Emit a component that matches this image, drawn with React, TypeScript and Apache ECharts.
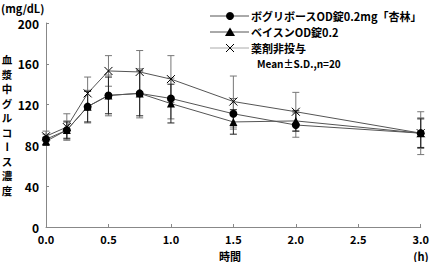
import React, { useEffect, useRef } from "react";
import * as echarts from "echarts";

const times = [0, 1 / 6, 1 / 3, 0.5, 0.75, 1.0, 1.5, 2.0, 3.0];
const xTicks = ["0.0", "0.5", "1.0", "1.5", "2.0", "2.5", "3.0"];
const yTicks = [0, 40, 80, 120, 160, 200];

const seriesNames = ["ボグリボースOD錠0.2mg「杏林」", "ベイスンOD錠0.2", "薬剤非投与"];
const vogMean = [86, 95, 118, 129, 131, 126, 111, 100, 92];
const vogSD = [5, 9, 16, 20, 24, 20, 15, 12, 15];
const basMean = [84, 95, 118, 129, 131, 121, 103, 104, 92];
const basSD = [4, 8, 15, 18, 22, 19, 12, 10, 14];
const noneMean = [89, 98, 131, 153, 152, 145, 123, 113, 92];
const noneSD = [5, 13, 16, 15, 21, 23, 25, 19, 21];

const yTitle = "血漿中グルコース濃度";
const note = "Mean±S.D.,n=20";

const FONT = "'Noto Sans CJK JP', 'Noto Sans', sans-serif";
const X_PATH = "path://M0,0L10,10M10,0L0,10";

function errData(mean: number[], sd: number[]) {
  return times.map((t, i) => [t, mean[i] - sd[i], mean[i] + sd[i]]);
}

function errSeries(mean: number[], sd: number[], color: string) {
  return {
    type: "custom",
    silent: true,
    z: 1,
    clip: false,
    data: errData(mean, sd),
    encode: { x: 0, y: [1, 2] },
    renderItem: (params: any, api: any) => {
      const x = api.value(0);
      const lo = api.coord([x, api.value(1)]);
      const hi = api.coord([x, api.value(2)]);
      const w = 3.5;
      const style = { stroke: color, lineWidth: 1 };
      return {
        type: "group",
        children: [
          { type: "line", shape: { x1: lo[0], y1: lo[1], x2: hi[0], y2: hi[1] }, style },
          { type: "line", shape: { x1: lo[0] - w, y1: lo[1], x2: lo[0] + w, y2: lo[1] }, style },
          { type: "line", shape: { x1: hi[0] - w, y1: hi[1], x2: hi[0] + w, y2: hi[1] }, style },
        ],
      };
    },
  };
}

function lineSeries(name: string, mean: number[], symbol: string, size: number, isX: boolean) {
  return {
    type: "line",
    name,
    z: 3,
    clip: false,
    data: times.map((t, i) => [t, mean[i]]),
    symbol,
    symbolSize: size,
    showAllSymbol: true,
    lineStyle: { color: "#555", width: 1 },
    itemStyle: isX
      ? { color: "#fff", borderColor: "#000", borderWidth: 1 }
      : { color: "#000", borderColor: "#000", borderWidth: 0 },
  };
}

export default function App() {
  const ref = useRef<HTMLDivElement>(null);
  useEffect(() => {
    document.body.style.margin = "0";
    if (!ref.current) return;
    const chart = echarts.init(ref.current, undefined, { renderer: "svg" });

    const chars = yTitle.split("");
    const STEP = 14.5;
    const Y0 = 125 - ((chars.length - 1) / 2) * STEP;
    const titleParts = chars.map((c, i) => ({
      type: "text",
      x: 7,
      y: Y0 + i * STEP,
      rotation: c === "ー" ? -Math.PI / 2 : 0,
      style: {
        text: c,
        font: `bold 10.5px ${FONT}`,
        fill: "#000",
        align: "center",
        verticalAlign: "middle",
      },
    }));

    const legendRows = [0, 1, 2].map((i) => {
      const y = 16 + i * 16;
      const lineColor = i === 2 ? "#aaa" : "#555";
      const children: any[] = [
        { type: "line", shape: { x1: 210, y1: y, x2: 249, y2: y }, style: { stroke: lineColor, lineWidth: 1 } },
      ];
      if (i === 0) children.push({ type: "circle", shape: { cx: 230, cy: y, r: 4 }, style: { fill: "#000" } });
      if (i === 1)
        children.push({
          type: "polygon",
          shape: { points: [[230, y - 4.5], [225, y + 4], [235, y + 4]] },
          style: { fill: "#000" },
        });
      if (i === 2) {
        children.push({ type: "line", shape: { x1: 226, y1: y - 4, x2: 234, y2: y + 4 }, style: { stroke: "#000", lineWidth: 1 } });
        children.push({ type: "line", shape: { x1: 226, y1: y + 4, x2: 234, y2: y - 4 }, style: { stroke: "#000", lineWidth: 1 } });
      }
      children.push({
        type: "text",
        x: 251,
        y,
        style: { text: seriesNames[i], font: `bold 11px ${FONT}`, fill: "#000", verticalAlign: "middle" },
      });
      return { type: "group", children };
    });

    chart.setOption({
      animation: false,
      grid: { left: 46, right: 11, top: 23, bottom: 35, containLabel: false },
      xAxis: {
        type: "value",
        min: 0,
        max: 3,
        interval: 0.5,
        axisLine: { lineStyle: { color: "#888", width: 1 } },
        axisTick: { show: true, inside: true, length: 3, lineStyle: { color: "#888" } },
        splitLine: { show: false },
        axisLabel: {
          formatter: (v: number) => xTicks[Math.round(v / 0.5)] ?? v.toFixed(1),
          color: "#000",
          fontSize: 11,
          fontWeight: "bold",
          fontFamily: FONT,
          margin: 6,
        },
      },
      yAxis: {
        type: "value",
        min: yTicks[0],
        max: yTicks[yTicks.length - 1],
        interval: 40,
        axisLine: { show: true, lineStyle: { color: "#888", width: 1 } },
        axisTick: { show: true, inside: true, length: 3, lineStyle: { color: "#888" } },
        splitLine: { show: false },
        axisLabel: {
          color: "#000",
          fontSize: 12,
          fontWeight: "bold",
          fontFamily: FONT,
          margin: 7,
        },
      },
      series: [
        errSeries(noneMean, noneSD, "#777"),
        errSeries(vogMean, vogSD, "#777"),
        errSeries(basMean, basSD, "#222"),
        lineSeries(seriesNames[2], noneMean, X_PATH, 8, true),
        lineSeries(seriesNames[0], vogMean, "circle", 8, false),
        lineSeries(seriesNames[1], basMean, "triangle", 8, false),
      ],
      graphic: [
        {
          type: "text",
          x: 1,
          y: 8,
          style: { text: "(mg/dL)", font: `bold 11px ${FONT}`, fill: "#000", verticalAlign: "middle" },
        },
        ...titleParts,
        ...legendRows,
        {
          type: "text",
          x: 257,
          y: 63,
          style: { text: note, font: `bold 10px ${FONT}`, fill: "#000", verticalAlign: "middle" },
        },
        {
          type: "text",
          x: 230,
          y: 255.5,
          style: { text: "時間", font: `bold 11px ${FONT}`, fill: "#000", align: "center", verticalAlign: "middle" },
        },
        {
          type: "text",
          x: 421,
          y: 255.5,
          style: { text: "(h)", font: `bold 11px ${FONT}`, fill: "#000", align: "center", verticalAlign: "middle" },
        },
      ],
    });
    return () => chart.dispose();
  }, []);
  return <div ref={ref} style={{ width: 432, height: 262 }} />;
}
